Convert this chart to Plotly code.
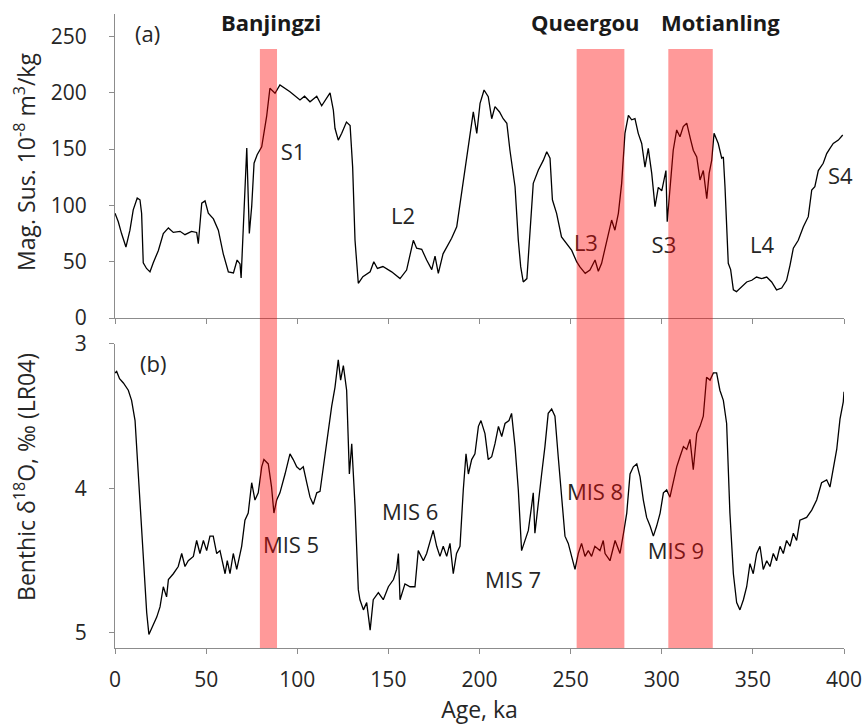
import plotly.graph_objects as go

# ---------------- data ----------------
mag_age = [0, 1.8, 3.6, 6, 8.2, 10, 12.2, 13.7, 14.6, 15.5, 17.3, 19.2, 21, 23.8, 26.5, 29.3, 32, 35.7,
           38.4, 42, 44.8, 45.7, 47.6, 49.4, 51.2, 54, 56.7, 59.4, 62.2, 65, 67, 68.6, 69.2, 70.4, 72.3, 73.7,
           75, 76.3, 78, 80.5, 83.2, 85, 87.8, 90.5, 96, 101.5, 104, 107, 110.7, 113.4, 118, 119.8,
           120.7, 122.5, 124.4, 127, 129, 130.4, 131.7, 133.5, 136, 140, 142, 144, 147, 151.8, 156.4,
           160, 161.9, 163.7, 165.5, 168.3, 171, 173.8, 175.6, 177.4, 180, 182, 184.7, 187.5, 191,
           194.8, 196.6, 198.5, 200.3, 202.5, 204.8, 206.7, 208.5, 211, 213, 215, 216.7, 219.5, 221.3,
           222.6, 224, 226, 227.7, 229.5, 232.3, 235, 236.9, 238.7, 240, 242.3, 245, 247.8, 250.6,
           253.3, 255, 258, 260.6, 263.4, 265.2, 267, 269.8, 272.5, 274.3, 276.2, 278, 279.8, 281.7,
           283.5, 285.3, 287.1, 289, 290.8, 292.6, 294.5, 296.3, 298.1, 300, 302.3, 303, 304.5, 306.3,
           308.2, 310, 311.8, 313.7, 315.9, 317.3, 319.2, 321, 322.8, 324.7, 326, 327.4, 328.7, 331,
           332.9, 333.8, 334.7, 336.5, 337.8, 339.3, 341, 343.9, 346.6, 349.4, 352, 354.8, 357.6,
           360.3, 363, 365.8, 368.5, 370.4, 372.2, 374.9, 377.7, 380.4, 382.3, 384, 385.9, 388.6,
           390.5, 392.3, 394.1, 396.9, 399.3]
mag_val = [93, 85.5, 75, 63, 78, 96, 106.5, 105, 93, 49, 44, 41, 49, 60, 75, 80, 76, 77,
           74, 77, 76, 66, 102, 104, 93, 88, 78, 57, 41, 40, 51.5, 48, 35.5, 75, 151, 75,
           99, 137.5, 145, 152, 179, 204, 199.6, 207, 201, 193.6, 197, 192, 197, 188.5, 200, 184.7,
           168.5, 158, 164, 174, 171, 134, 69, 30.8, 36.7, 41, 50, 44, 45.7, 41, 35,
           42.6, 57.4, 69, 62, 61, 51.5, 43, 55, 39.7, 57, 63, 70.8, 81, 119.6,
           164, 183, 164, 190.7, 202.5, 196.5, 177, 187.7, 183, 177, 173, 149, 116.6, 69,
           45.6, 32, 35, 75, 119.6, 131.4, 140, 147.7, 142, 105, 93, 72, 66, 60,
           50, 45.6, 39.7, 42.6, 51.5, 41.5, 48.6, 69, 87, 78, 93, 119.6, 164, 180,
           176, 177, 164, 155, 134, 150.7, 128.5, 98.8, 116, 113, 131, 85.5, 116, 149,
           167, 161, 170, 173, 158, 149, 143, 122.6, 131, 106, 128.5, 140, 164, 155,
           142, 143, 116.6, 48.6, 43, 25, 23.4, 27.8, 32, 33.5, 36.4, 35, 36.4,
           32, 25, 26.6, 33.5, 47, 62, 69, 81, 90, 113.7, 116.6, 131, 137.4,
           146, 150.7, 155, 158, 162.5]

d18o_age = [0, 0.9, 2.5, 4.6, 7.3, 9.1, 11, 12.8, 15.5, 17.4, 18.6, 20, 22.9, 24.7, 26.5, 28.3, 29.3,
            32, 34.7, 36.6, 38.4, 40.2, 43, 44.8, 46.6, 48.5, 50.3, 52.1, 53.9, 55.8, 57.6, 60.4,
            61.6, 63.1, 64.9, 66.8, 69.5, 71.3, 73.1, 75, 76.8, 78.6, 80.5, 81.7, 84.1, 85.9, 87.2,
            88.7, 90.5, 93.3, 96, 97.8, 99.7, 101.5, 103.3, 105.2, 107, 108.8, 110.7, 112.5, 114.3,
            116.2, 118.9, 120.7, 122.5, 123.8, 125.3, 127.1, 128.6, 129.9, 131.7, 133.5, 134.4,
            136.3, 138.1, 140, 141.7, 144.5, 147.2, 150, 152.8, 154.5, 155.5, 156.4, 159.1, 161.9,
            164.6, 166.4, 169.2, 171, 172.8, 174.6, 176.5, 178.3, 180.1, 182, 183.8, 185.6, 187.4,
            189.3, 191.1, 192.6, 193.9, 195.7, 197.5, 199.4, 200.8, 203, 204.8, 206.7, 208.5,
            210.4, 212.2, 214, 216.2, 217.6, 219.5, 221.3, 223.1, 225, 226.8, 228.6, 229.5, 230.4,
            232.3, 234.1, 235.9, 237.7, 239.6, 241.4, 243.2, 245, 246.9, 248.7, 250.5, 252.4,
            254.2, 256, 257.9, 259.7, 261.5, 263.3, 266.1, 267.9, 268.9, 271.6, 274.4, 277.1, 279,
            280.8, 282.6, 284.4, 286.3, 288.1, 289.9, 291.7, 293.6, 295.4, 297.2, 299.1, 300.9,
            302.7, 304.5, 306.4, 308.2, 310, 311.9, 313.7, 315.5, 317.3, 319.2, 321, 322.8, 324.6,
            326.5, 328.3, 330.1, 331.9, 333.8, 335.6, 337.4, 339.3, 341.1, 342.9, 344.8, 346.6,
            348.4, 350.2, 352.1, 353.9, 355.7, 357.6, 359.4, 361.2, 363, 364.9, 366.7, 368.5,
            370.4, 372.2, 374, 375.8, 379.5, 382.3, 385, 387.7, 390.5, 392.3, 394.1, 396, 397.8,
            399.6, 400]
d18o_val = [3.2, 3.19, 3.24, 3.27, 3.32, 3.39, 3.53, 3.9, 4.47, 4.86, 5.01, 4.97, 4.89, 4.82, 4.68, 4.75, 4.63,
            4.59, 4.54, 4.45, 4.54, 4.5, 4.47, 4.36, 4.45, 4.36, 4.43, 4.33, 4.33, 4.45, 4.43, 4.59,
            4.5, 4.59, 4.45, 4.56, 4.4, 4.22, 4.17, 3.96, 4.08, 4.03, 3.85, 3.8, 3.83, 3.99, 4.17,
            4.08, 4.03, 3.9, 3.76, 3.8, 3.85, 3.87, 3.85, 3.96, 4.06, 4.11, 4.03, 4.02, 3.85,
            3.66, 3.43, 3.3, 3.11, 3.25, 3.15, 3.32, 3.9, 3.69, 4.12, 4.7, 4.77,
            4.84, 4.79, 4.98, 4.77, 4.72, 4.77, 4.68, 4.63, 4.56, 4.45, 4.77, 4.66, 4.68,
            4.68, 4.43, 4.5, 4.45, 4.36, 4.29, 4.4, 4.47, 4.4, 4.47, 4.38, 4.59, 4.45,
            4.4, 4.01, 3.76, 3.9, 3.8, 3.76, 3.57, 3.53, 3.62, 3.8, 3.78, 3.69,
            3.57, 3.64, 3.55, 3.53, 3.48, 3.71, 4.01, 4.43, 4.36, 4.29, 4.12, 4.03, 4.31,
            4.12, 3.9, 3.71, 3.48, 3.45, 3.5, 3.78, 4.06, 4.33, 4.38, 4.47, 4.56,
            4.45, 4.38, 4.47, 4.43, 4.47, 4.4, 4.43, 4.36, 4.45, 4.5, 4.36, 4.45, 4.31,
            4.17, 3.9, 3.85, 3.83, 3.92, 4.08, 4.2, 4.26, 4.33, 4.26, 4.17, 4.03,
            4.01, 4.06, 3.94, 3.85, 3.78, 3.71, 3.73, 3.66, 3.87, 3.62, 3.57, 3.5, 3.23,
            3.25, 3.2, 3.2, 3.32, 3.39, 3.55, 4.17, 4.59, 4.79, 4.84, 4.77, 4.68,
            4.52, 4.59, 4.45, 4.4, 4.56, 4.5, 4.54, 4.45, 4.5, 4.4, 4.45, 4.36,
            4.4, 4.31, 4.36, 4.22, 4.2, 4.15, 4.08, 3.96, 3.94, 3.99, 3.87, 3.73, 3.52,
            3.4, 3.33]

band_start = [79.5, 253.3, 303.6]
band_end = [88.9, 279.5, 328.0]
site_names = ["Banjingzi", "Queergou", "Motianling"]
site_age = [85.6, 258, 332]

top_labels = ["S1", "L2", "L3", "S3", "L4", "S4"]
top_label_age = [97.7, 158, 258.4, 301.2, 355, 398]
top_label_val = [144.8, 88.8, 64.8, 62.2, 63, 124.3]

bot_labels = ["MIS 5", "MIS 6", "MIS 7", "MIS 8", "MIS 9"]
bot_label_age = [96.6, 162, 218.4, 263.4, 307.8]
bot_label_val = [4.41, 4.18, 4.65, 4.045, 4.45]

x_ticks = [0, 50, 100, 150, 200, 250, 300, 350, 400]
mag_ticks = [0, 50, 100, 150, 200, 250]
d18o_ticks = [3, 4, 5]

# ---------------- figure ----------------
FONT = "Open Sans"
TXT = "#262626"
AX = "#8c8c8c"
fs_tick = 21
fs_lab = 22
fs_title = 23

fig = go.Figure()
fig.add_trace(go.Scatter(x=mag_age, y=mag_val, mode="lines", line=dict(color="black", width=1.3),
                         xaxis="x2", yaxis="y2", showlegend=False, hoverinfo="skip"))
fig.add_trace(go.Scatter(x=d18o_age, y=d18o_val, mode="lines", line=dict(color="black", width=1.3),
                         xaxis="x", yaxis="y", showlegend=False, hoverinfo="skip"))
fig.add_trace(go.Scatter(x=top_label_age, y=top_label_val, text=top_labels, mode="text",
                         textfont=dict(family=FONT, size=fs_lab, color=TXT), textposition="middle center",
                         xaxis="x2", yaxis="y2", showlegend=False, hoverinfo="skip", cliponaxis=False))
fig.add_trace(go.Scatter(x=bot_label_age, y=bot_label_val, text=bot_labels, mode="text",
                         textfont=dict(family=FONT, size=fs_lab, color=TXT), textposition="middle center",
                         xaxis="x", yaxis="y", showlegend=False, hoverinfo="skip", cliponaxis=False))

top_dom = [0.5205, 1.0]
bot_dom = [0.0, 0.4795]

axis_common = dict(showline=True, linecolor=AX, linewidth=1.2, ticks="outside", tickcolor=AX,
                   ticklen=5, tickwidth=1.2, showgrid=False, zeroline=False, automargin=False,
                   tickfont=dict(family=FONT, size=fs_tick, color=TXT))

fig.update_layout(
    width=866, height=725,
    margin=dict(l=115, r=22, t=14, b=77),
    paper_bgcolor="white", plot_bgcolor="white",
    font=dict(family=FONT, size=fs_tick, color=TXT),
    xaxis=dict(domain=[0, 1], anchor="y", range=[0, 400], tickvals=x_ticks, ticklabelstandoff=8,
               title=dict(text="Age, ka", font=dict(family=FONT, size=fs_title, color=TXT), standoff=0),
               **axis_common),
    xaxis2=dict(domain=[0, 1], anchor="y2", range=[0, 400], tickvals=x_ticks, matches="x",
                showticklabels=False, **axis_common),
    yaxis=dict(domain=bot_dom, anchor="x", range=[5.104, 3.0], tickvals=d18o_ticks, ticklabelstandoff=18,
               **axis_common),
    yaxis2=dict(domain=top_dom, anchor="x2", range=[0, 270], tickvals=mag_ticks, ticklabelstandoff=18,
                **axis_common),
)

# y-axis titles (rotated text)
fig.add_annotation(x=-0.1235, y=0.7666, xref="paper", yref="paper", textangle=-90, showarrow=False,
                   text="Mag. Sus. 10<sup>-8</sup> m<sup>3</sup>/kg", xanchor="center", yanchor="middle",
                   font=dict(family=FONT, size=fs_title, color=TXT))
fig.add_annotation(x=-0.1235, y=0.2697, xref="paper", yref="paper", textangle=-90, showarrow=False,
                   text="Benthic δ<sup>18</sup>O, ‰ (LR04)", xanchor="center", yanchor="middle",
                   font=dict(family=FONT, size=fs_title, color=TXT))

for s, e in zip(band_start, band_end):
    fig.add_shape(type="rect", xref="x", yref="paper", x0=s, x1=e, y0=0, y1=0.9448,
                  fillcolor="rgba(255,0,0,0.4)", line=dict(width=0), layer="above")

for name, a in zip(site_names, site_age):
    fig.add_annotation(x=a, y=263, xref="x2", yref="y2", text="<b>" + name + "</b>", showarrow=False,
                       font=dict(family=FONT, size=fs_lab, color="#1a1a1a"), xanchor="center", yanchor="middle")

fig.add_annotation(x=18, y=253, xref="x2", yref="y2", text="(a)", showarrow=False,
                   font=dict(family=FONT, size=fs_lab, color=TXT))
fig.add_annotation(x=21, y=3.13, xref="x", yref="y", text="(b)", showarrow=False,
                   font=dict(family=FONT, size=fs_lab, color=TXT))

fig.write_html("out.html")
